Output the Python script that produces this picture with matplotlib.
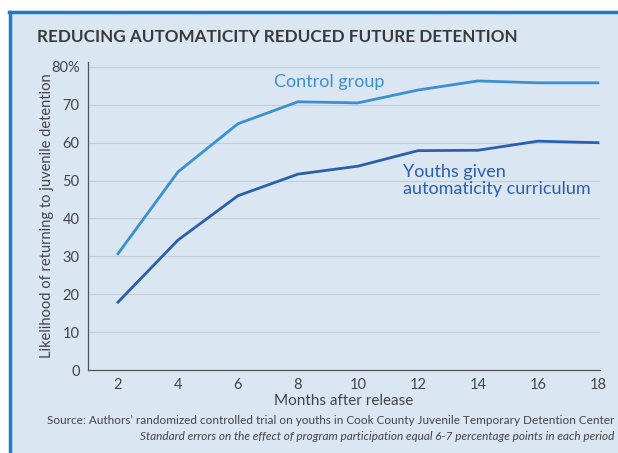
import numpy as np
import matplotlib.pyplot as plt
from matplotlib.patches import Rectangle
from matplotlib.lines import Line2D

plt.rcParams['font.family'] = ['Lato', 'DejaVu Sans']

# data
months = [2, 4, 6, 8, 10, 12, 14, 16, 18]
control = [30.7, 52.3, 65.0, 70.8, 70.5, 73.9, 76.3, 75.8, 75.8]
treated = [17.9, 34.3, 46.0, 51.7, 53.8, 57.9, 58.0, 60.4, 60.0]
yticks = [0, 10, 20, 30, 40, 50, 60, 70, 80]
ytick_labels = ['0', '10', '20', '30', '40', '50', '60', '70', '80%']

c_control = '#3b8fd3'
c_treated = '#2b5fae'
bg = '#dbe6f3'
frame = '#1d7cc6'
txt = '#444444'

W, H = 618, 453
fig = plt.figure(figsize=(W/100, H/100), dpi=100)
fig.patch.set_facecolor('white')

# panel background + blue frame (left and top edges)
fig.patches.append(Rectangle((9/W, 0), 1, 1 - 12/H, transform=fig.transFigure,
                             facecolor=bg, edgecolor='none', zorder=-10))
fig.lines.append(Line2D([9.5/W, 9.5/W], [0, 1 - 11.5/H], transform=fig.transFigure,
                        color=frame, lw=2.5, zorder=-5))
fig.lines.append(Line2D([8.5/W, 1], [1 - 12/H, 1 - 12/H], transform=fig.transFigure,
                        color=frame, lw=2.5, zorder=-5))

ax = fig.add_axes([88/W, 1 - 370/H, (600 - 88)/W, (370 - 62)/H])
ax.set_facecolor('none')

ax.plot(months, control, color=c_control, lw=2)
ax.plot(months, treated, color=c_treated, lw=2)

ax.set_xlim(1, 18.07)
ax.set_ylim(0, 81.3)
ax.set_xticks(months)
ax.set_yticks(yticks)
ax.set_yticklabels(ytick_labels)
ax.tick_params(length=0, labelsize=10.5, colors=txt, pad=6)
ax.grid(axis='y', color='#c4ccd6', lw=0.8)
ax.set_axisbelow(True)
for s in ['top', 'right']:
    ax.spines[s].set_visible(False)
for s in ['left', 'bottom']:
    ax.spines[s].set_color('#555555')
    ax.spines[s].set_linewidth(0.9)

ax.set_xlabel('Months after release', fontsize=11, color=txt, labelpad=1)
ax.set_ylabel('Likelihood of returning to juvenile detention', fontsize=10.5,
              color=txt, labelpad=-2)

ax.text(9.03, 76.0, 'Control group', color=c_control, fontsize=13, ha='center', va='center')
ax.text(11.5, 50.1, 'Youths given\nautomaticity curriculum', color=c_treated,
        fontsize=13, ha='left', va='center', linespacing=1.1)

fig.text(37/W, 1 - 37/H, 'REDUCING AUTOMATICITY REDUCED FUTURE DETENTION',
         fontsize=12.3, fontweight='bold', color='#3a3a3a', va='center', ha='left')
fig.text(614/W, 1 - 421/H,
         'Source: Authors\u2019 randomized controlled trial on youths in Cook County Juvenile Temporary Detention Center',
         fontsize=8.5, color=txt, ha='right', va='center')
fig.text(614/W, 1 - 436/H,
         'Standard errors on the effect of program participation equal 6-7 percentage points in each period',
         fontsize=8.5, color=txt, ha='right', va='center', style='italic')

fig.savefig('out.png', dpi=100, facecolor=fig.get_facecolor())
